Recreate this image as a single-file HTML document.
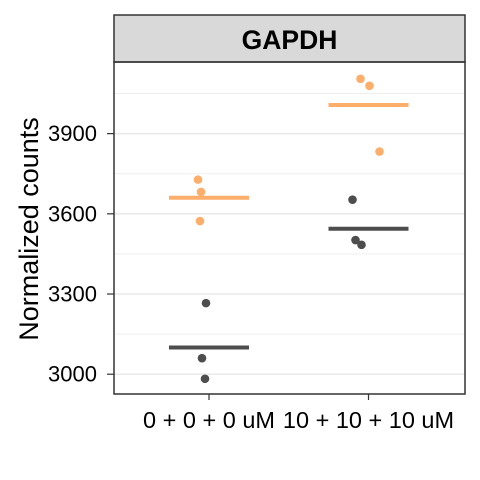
<!DOCTYPE html>
<html><head><meta charset="utf-8"><style>body{margin:0;background:#fff}svg{display:block;font-family:"Liberation Sans",Arial,sans-serif}</style></head>
<body>
<svg width="480" height="480" id="c"></svg>
<script>
const categories=["0 + 0 + 0 uM","10 + 10 + 10 uM"];
const darkPoints=[[3266,3060,2983],[3653,3502,3484]];
const orangePoints=[[3728,3682,3573],[4105,4079,3833]];
const darkMeans=[3100,3544];
const orangeMeans=[3660,4007];
const jitterDark=[[-3,-7,-4],[-16,-13,-7]];
const jitterOrange=[[-11,-8,-9],[-8,1,11]];
const yTicks=[3000,3300,3600,3900];
const yMinor=[3150,3450,3750,4050];
const L=114,R=465,T=62,B=394;
const yMin=2926,yMax=4168;
const y=v=>B-(v-yMin)/(yMax-yMin)*(B-T);
const x=i=>209+i*(368.5-209);
const svg=document.getElementById('c');const NS='http://www.w3.org/2000/svg';
function add(tag,attrs,name,text){const e=document.createElementNS(NS,tag);for(const k in attrs)e.setAttribute(k,attrs[k]);


if(text!==undefined)e.textContent=text;svg.appendChild(e);return e;}
add('rect',{x:L,y:T,width:R-L,height:B-T,fill:'#fff'},'plot-background');
yMinor.forEach(v=>add('line',{x1:L,x2:R,y1:y(v),y2:y(v),stroke:'#ebebeb','stroke-width':0.8},'minor-gridline'));
yTicks.forEach(v=>add('line',{x1:L,x2:R,y1:y(v),y2:y(v),stroke:'#ebebeb','stroke-width':1.6},'major-gridline'));
categories.forEach((c,i)=>{
 darkPoints[i].forEach((v,j)=>add('circle',{cx:x(i)+jitterDark[i][j],cy:y(v),r:4.3,fill:'#4d4d4d'},'dark-point'));
 orangePoints[i].forEach((v,j)=>add('circle',{cx:x(i)+jitterOrange[i][j],cy:y(v),r:4.3,fill:'#fdae6b'},'orange-point'));
 add('line',{x1:x(i)-40,x2:x(i)+40,y1:y(darkMeans[i]),y2:y(darkMeans[i]),stroke:'#4d4d4d','stroke-width':4},'dark-mean-line');
 add('line',{x1:x(i)-40,x2:x(i)+40,y1:y(orangeMeans[i]),y2:y(orangeMeans[i]),stroke:'#fdae6b','stroke-width':4},'orange-mean-line');
 add('line',{x1:x(i),x2:x(i),y1:B,y2:B+6,stroke:'#333','stroke-width':1.2},'x-tick');
 add('text',{x:x(i),y:428,'text-anchor':'middle','font-size':23.5,fill:'#000'},'x-tick-label',c);
});
yTicks.forEach(v=>{add('line',{x1:L-7,x2:L,y1:y(v),y2:y(v),stroke:'#333','stroke-width':1.2},'y-tick');
 add('text',{x:97,y:y(v)+7.5,'text-anchor':'end','font-size':22,fill:'#000'},'y-tick-label',v);});
add('rect',{x:L,y:15,width:R-L,height:T-15,fill:'#d9d9d9',stroke:'#333','stroke-width':1.5},'facet-strip');
add('text',{x:(L+R)/2,y:49,'text-anchor':'middle','font-size':26.5,'font-weight':'bold',fill:'#000'},'facet-title','GAPDH');
add('rect',{x:L,y:T,width:R-L,height:B-T,fill:'none',stroke:'#333','stroke-width':1.5},'panel-border');
add('text',{x:0,y:0,transform:'translate(38,229) rotate(-90)','text-anchor':'middle','font-size':27,fill:'#000'},'y-axis-title','Normalized counts');
</script>
</body></html>
